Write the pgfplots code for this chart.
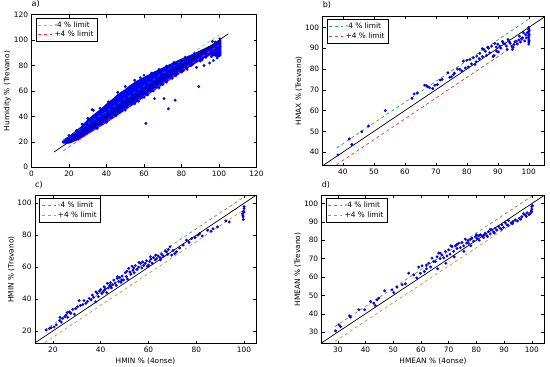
\documentclass[border=0pt]{standalone}
\usepackage{fontspec}
\setmainfont{DejaVu Sans}
\usepackage{pgfplots}
\pgfplotsset{compat=1.18}
\newcommand\fs{\fontsize{7.4}{8.4}\selectfont}
\definecolor{limg}{RGB}{20,170,80}
\definecolor{limr}{RGB}{240,50,70}
\definecolor{limo}{RGB}{110,140,70}
\definecolor{limb}{RGB}{205,140,60}
\pgfplotsset{
  panel/.style={
    scale only axis, anchor=south west,
    tick align=inside, major tick length=3pt,
    tick style={black, line width=0.5pt},
    axis line style={line width=0.6pt},
    ticklabel style={font=\fs},
    label style={font=\fs},
    ylabel style={yshift=-4pt},
    xlabel style={yshift=2pt},
    /pgf/number format/assume math mode=true,
    legend style={font=\fs, draw=black, line width=0.6pt, at={(0.02,0.98)}, anchor=north west,
      row sep=-1.5pt, inner sep=1.5pt},
    legend cell align=left,
    legend image code/.code={\draw[##1] (0pt,0pt) -- (14pt,0pt);},
    title style={at={(0,1)}, anchor=south west, font=\fontsize{8}{9}\selectfont, inner sep=1pt, xshift=-1pt},
  },
  pts/.style={only marks, mark=*, mark size=1.35pt, color=blue, mark options={fill=blue, draw=blue!70!black, line width=0.2pt}},
  dl/.style={dash pattern=on 3pt off 3pt, line width=0.7pt},
}
\begin{document}
\begin{tikzpicture}
\useasboundingbox (0,0) rectangle (550pt,367pt);
% ---------------- a)
\begin{axis}[panel, at={(31.5pt,199.7pt)}, width=225pt, height=152.6pt,
  xmin=0, xmax=120, ymin=0, ymax=120, xtick={0,20,...,120}, ytick={0,20,...,120},
  ylabel={Humidity \% (Trevano)}, title={a)}]
\addplot[fill=blue, draw=blue, line width=1.2pt, forget plot] coordinates {
(16.5,20)(17.5,21.8)(20,24)(23,27.5)(26,31)(28,34)(31,38.5)(34,42)(37,45.5)(40,49.5)(43,53)(46,57)(50,61)(53,64.5)(56,67.5)(60,70.5)(65,74.5)(70,78)(75,81.5)(80,85)(85,88)(90,91.5)(95,95)(98,97)(100,99.5)(101,100)
(101,88)(100,87)
(95,88.5)(90,84.5)(85,80)(80,75.5)(75,70.5)(70,65.5)(65,60.5)(60,55.5)(55,50.5)(50,45.5)(45,40.5)(40,35.5)(35,31)(30,26.5)(25,22)(20,19)(17,19)} -- cycle;
\addplot[pts, forget plot] coordinates {
(61,34.5)(89.2,63.5)(73,46)(65.6,54)(70.7,54)(76.6,52.8)(32.3,45.4)(33,44.8)(46,59)(55,68.5)(60,72.5)(95,82)(92,80)(88,78.5)(97,84)(99,86)(98,98.5)(96.5,99)(100.5,101)(85,80)(80,75)(78,73.5)(83,77)(90,83.5)(93,86.5)(36.5,46.5)(41,51.5)(50,63.5)(58,70.5)(64,74)(68,77)(72,79.5)(76,82.5)(82,86.5)(87,89.5)(30,38.5)(27,34)(24,29)(20,25)
(35,30.5)(40,35.5)(45,40.5)(50,45)(55,50)(60,55)(65,60)(70,65)(75,70)(80,75.5)(85,80.5)(90,85)(94,88)(68,62.5)(72,67)(77,72)(81,76)(86,81)(91,84.5)(62,57)(57,52)(47,43)(96,87)(98,89)(100.5,90)(100.5,95)};
\addplot[limg, dl, opacity=0.6] coordinates {(17,21) (100,104)};
\addlegendentry{-4 \% limit}
\addplot[limr, dl] coordinates {(17,13) (100,96)};
\addlegendentry{+4 \% limit}
\addplot[black, line width=0.7pt, forget plot] coordinates {(12,12) (105,105)};
\end{axis}
% ---------------- b)
\begin{axis}[panel, at={(322.7pt,201.3pt)}, width=221.6pt, height=149.7pt,
  xmin=33.5, xmax=105, ymin=33.5, ymax=105.5, xtick={40,50,...,100}, ytick={40,50,...,100},
  ylabel={HMAX \% (Trevano)}, title={b)}]
\addplot[limg, dl] coordinates {(38,42) (100,104)};
\addlegendentry{-4 \% limit}
\addplot[limr, dl] coordinates {(38,34) (100,96)};
\addlegendentry{+4 \% limit}
\addplot[black, line width=0.7pt, forget plot] coordinates {(33.5,33.5) (105.5,105.5)};
\addplot[pts, forget plot] coordinates {
(38.4,38.7)(42.1,46.4)(42.9,43.7)(46.1,49.8)(48.3,52.6)(53.7,60)(62.3,65.9)(64,68.5)(66.4,72.2)(67.4,71.5)(69,70.6)(69.7,72.2)(71.4,74.7)(73.9,78.2)(75,76.3)(75.7,77.4)(77.8,79.8)(78.4,79)(78.9,83.8)(80,84.2)(81,84.6)(82.1,85.4)(82.6,82.2)(83.2,86.2)(84.2,87.5)(85.5,89.4)(86.4,86.6)(87.4,87.8)(88,91)(89,92.3)(89.6,88.6)(90.6,91)(91.7,92.6)(92.8,91)(93.3,94.2)(94,92.3)(94.7,89.4)(95.2,91.8)(96,93.4)(97,95.8)(97.6,94.6)(98.3,97.4)(99.2,95)
(79.5,80.5)(80.5,81)(81.5,82.5)(83,83.5)(84,85)(85,86)(86,88.5)(87,90)(88.5,86)(89.5,90.5)(90,92)(91,90)(91.5,93.3)(92.3,92)(93,89.5)(93.8,93)(94.5,91)(95,90.5)(95.5,93)(96.3,92)(96.8,94)(97.3,93)(98,95)(98.7,93.5)(99,96.5)(99.5,97.5)
(100,92)(100,93)(100,94)(100,95)(100,96)(100,97)(100,98)(100,99)(100,100)(100.1,93.5)(100.1,96.5)(100.1,98.5)
(77,80)(76,78)(74.5,76)(72,75)(70.5,72.5)(68,71)(63,68)(67,72)(88.8,86.5)(90.2,88.2)(86.8,90.5)(85,89.8)};
\end{axis}
% ---------------- c)
\begin{axis}[panel, at={(35pt,23.3pt)}, width=221pt, height=148.4pt,
  xmin=12.5, xmax=105, ymin=12, ymax=105, xtick={20,40,...,100}, ytick={20,40,...,100},
  ylabel={HMIN \% (Trevano)}, xlabel={HMIN \% (4onse)}, title={c)}]
\addplot[limo, dl] coordinates {(16.6,20.6) (100,104)};
\addlegendentry{-4 \% limit}
\addplot[limb, dl] coordinates {(16.6,12.6) (100,96)};
\addlegendentry{+4 \% limit}
\addplot[black, line width=0.7pt, forget plot] coordinates {(12,12) (105,105)};
\addplot[pts, forget plot] coordinates {
(17.2,20.6)(18.5,21.5)(19.3,22)(20.5,22.5)(21.4,23.8)(22.8,26.5)(23.5,25.5)(24.1,27.9)(25,29)(25.5,30)(26.2,28.5)(26.9,32)(27.5,31)(28.3,33.5)(29,30.5)(30.3,35.2)(31,39)(31.5,36)(32.5,36.5)(33.8,37.3)(34.5,38.5)(35.2,40.4)(36,39.5)(37,41)(37.9,38.3)(38.6,43.5)(39,41.5)(39.5,45)(40,46)(40.5,43.5)(41,44.5)(41.4,47.7)(42,46.5)(42.5,44)(42.8,49.8)(43.2,47)(43.8,48.5)(44.1,50.2)(44.5,47)(45,49)(45.5,51.9)(46,50)(46.5,48.5)(46.9,52.9)(47.5,51)(48,53.5)(48.5,50.5)(49,54.4)(49.5,52)(50.3,56.5)(50.8,54)(51.2,52.5)(51.7,59.2)(52.2,57)(52.6,55.5)(53.1,60.6)(53.5,58)(54,56.5)(54.5,61)(55.2,58.5)(55.8,60)(56.6,62.3)(57.2,59.5)(58,61)(58.6,62.3)(59.2,64)(60,61.3)(60.5,63.5)(61,65)(61.5,62.5)(62.1,66)(62.8,64.5)(63.4,65.4)(64,67)(64.8,66)(65.5,68.1)(66.2,67)(67,70)(67.6,69.6)(68.3,71)(69,72.7)(69.7,67.5)(70.3,70.5)(71,68.5)(71.7,69.6)(73,72)(74.5,73.8)(75.9,76.9)(77,75.5)(78,77.9)(79.5,78.5)(80.7,80)(81.4,81)(82.5,79.5)(84.8,83.1)(86.2,82.5)(87,84)(88.9,85.2)(92.4,89)(93.8,88.3)(99.3,93.5)(99.6,91.5)(99.8,95)(100,96.7)(100,98)(99.7,89.8)(100,94.5)(99.5,92.5)
(23,28.5)(26,31.5)(29.5,34)(33,39)(36.5,42.5)(38,44.5)(41.5,45.5)(44,48)(47,54)(48.8,51.8)(51,57.5)(53.8,59.5)(56,63)(57.5,63.2)(59.5,60.5)(60.8,66.5)(63,67.5)(65,64.5)(68,68)};
\end{axis}
% ---------------- d)
\begin{axis}[panel, at={(321.7pt,23.3pt)}, width=222.6pt, height=148.4pt,
  xmin=24.2, xmax=104.5, ymin=23.7, ymax=104.5, xtick={30,40,...,100}, ytick={30,40,...,100},
  ylabel={HMEAN \% (Trevano)}, xlabel={HMEAN \% (4onse)}, title={d)}]
\addplot[limo, dl] coordinates {(29,33) (100,104)};
\addlegendentry{-4 \% limit}
\addplot[limb, dl] coordinates {(29,25) (100,96)};
\addlegendentry{+4 \% limit}
\addplot[black, line width=0.7pt, forget plot] coordinates {(23.7,23.7) (105,105)};
\addplot[pts, forget plot] coordinates {
(29.2,30.7)(30.4,34)(31,33)(34.2,38.9)(34.6,38.2)(37.6,42.2)(39.7,42.2)(41.8,46.7)(43,45.8)(44.2,47.6)(44.8,48.5)(43.5,44.5)(46.9,52.5)(49.6,53)(50.2,51.5)(51.4,54.5)(53.2,55.8)(54.4,56.3)(55.6,62.1)(57.4,61.2)(58.5,59.5)(59.2,65.4)(59.8,62)(60.4,66.1)(61.2,63)(62,64.5)(62.8,67.5)(63.5,65.5)(64,70.3)(64.6,68.5)(65.2,68.4)(65.8,71)(66.4,73)(66.9,70)(67.6,72)(68.2,70.5)(68.8,73.9)(69.4,71.5)(70,74.8)(70.5,72.5)(71.2,76.6)(71.8,74)(72.4,77)(73,75.5)(73.6,78.4)(74.2,76)(74.8,78.8)(75.4,77)(76,80.6)(76.5,78.5)(77.2,78.4)(77.8,80.5)(78.4,81.1)(79,79.5)(79.6,82)(80.2,81)(80.8,82.4)(81.4,83)(82,82.4)(82.6,81.5)(83.2,83.9)(83.8,82.5)(84.4,84.8)(85,83.5)(85.6,85.7)(86.2,84.5)(86.8,86.6)(87.4,85.5)(88,87.5)(88.6,86.5)(89.2,88.4)(89.8,87)(90.4,89.7)(91,88.5)(91.6,90.8)(92.5,89.5)(93.2,90.2)(94,91.1)(94.8,90.5)(95.5,92)(96.4,92.9)(97,94.5)(97.6,93.8)(98.3,95)(99,94)(99.4,94.7)(99.8,96)(100,97)(100,98.4)(100,95.5)(100.2,99)
(66,64.5)(69,67.5)(72,71)(75.5,74)(78,77)(81,80)(84,82)(86.5,84)(89,86)(91.5,88)(93,89)(96,91.5)(98,93)(62,66.5)(67,73)(70.8,77)(73,77.8)(77,79.8)(80,83)(82.8,83)(85,86)};
\end{axis}
\end{tikzpicture}
\end{document}
